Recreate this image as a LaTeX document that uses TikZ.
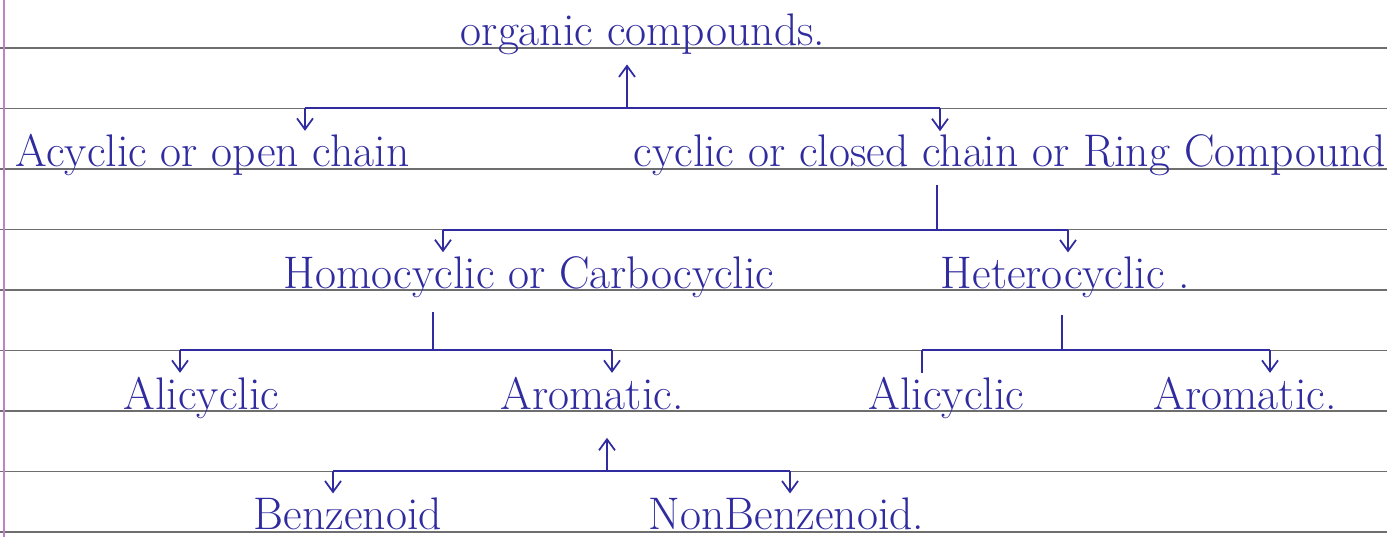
\documentclass[tikz,border=0pt]{standalone}
\usetikzlibrary{arrows.meta}

\definecolor{ink}{RGB}{48,44,160}
\definecolor{ruling}{RGB}{110,110,110}
\definecolor{margin}{RGB}{190,130,200}

\begin{document}
\begin{tikzpicture}[
    x=0.02cm, y=-0.02cm,
    >={Straight Barb[length=2.2mm, width=3.2mm]},
    line/.style  = {ink, line width=1pt},
    rule/.style  = {ruling, line width=0.6pt},
    word/.style  = {ink, anchor=base west, inner sep=2pt,
                    font=\fontsize{26}{30}\selectfont}
]

% Ruled notebook page
\fill[white] (0,0) rectangle (1387,537);
\useasboundingbox (0,0) rectangle (1387,537);
\foreach \ry in {48,108.5,169,229.5,290,350.5,411,471.5,532}
    \draw[rule] (0,\ry) -- (1387,\ry);
\draw[margin, line width=0.8pt] (4,0) -- (4,537);

% Class names
\node[word] (org)     at (457, 46)  {organic compounds.};
\node[word] (acyc)    at (12, 167)  {Acyclic or open chain};
\node[word] (cyc)     at (630, 167) {cyclic or closed chain or Ring Compound};
\node[word] (homo)    at (280, 288) {Homocyclic or Carbocyclic};
\node[word] (hetero)  at (937, 288) {Heterocyclic .};
\node[word] (ali1)    at (120, 409) {Alicyclic};
\node[word] (aro1)    at (497, 409) {Aromatic.};
\node[word] (ali2)    at (865, 409) {Alicyclic};
\node[word] (aro2)    at (1150, 409) {Aromatic.};
\node[word] (benz)    at (250, 529) {Benzenoid};
\node[word] (nonbenz) at (645, 529) {NonBenzenoid.};

% Organic compounds -> acyclic / cyclic
\coordinate (t0) at (627, 108);
\coordinate (tL) at (305, 108);
\coordinate (tR) at (940, 108);
\draw[line] (tL) -- (tR);
\draw[->, line, shorten >=3pt] (t0) -- (t0 |- org.south);
\draw[->, line] (tL) -- (tL |- acyc.north);
\draw[->, line] (tR) -- (tR |- cyc.north);

% Cyclic -> homocyclic / heterocyclic
\coordinate (c0) at (937, 230);
\coordinate (cL) at (443, 230);
\coordinate (cR) at (1068, 230);
\draw[line, shorten <=3pt] (c0 |- cyc.south) -- (c0);
\draw[line] (cL) -- (cR);
\draw[->, line] (cL) -- (cL |- homo.north);
\draw[->, line] (cR) -- (cR |- hetero.north);

% Homocyclic -> alicyclic / aromatic
\coordinate (h0) at (433, 350);
\coordinate (hL) at (180, 350);
\coordinate (hR) at (612, 350);
\draw[line, shorten <=6pt] (h0 |- homo.south) -- (h0);
\draw[line] (hL) -- (hR);
\draw[->, line] (hL) -- (hL |- ali1.north);
\draw[->, line] (hR) -- (hR |- aro1.north);

% Heterocyclic -> alicyclic / aromatic
\coordinate (e0) at (1062, 350);
\coordinate (eL) at (922, 350);
\coordinate (eR) at (1270, 350);
\draw[line, shorten <=8pt] (e0 |- hetero.south) -- (e0);
\draw[line] (eL) -- (eR);
\draw[line] (eL) -- (eL |- ali2.north);
\draw[->, line] (eR) -- (eR |- aro2.north);

% Aromatic <- benzenoid / non benzenoid
\coordinate (a0) at (607, 471);
\coordinate (aL) at (333, 471);
\coordinate (aR) at (790, 471);
\draw[line] (aL) -- (aR);
\draw[->, line, shorten >=14pt] (a0) -- (a0 |- aro1.south);
\draw[->, line] (aL) -- (aL |- benz.north);
\draw[->, line] (aR) -- (aR |- nonbenz.north);

\end{tikzpicture}
\end{document}
